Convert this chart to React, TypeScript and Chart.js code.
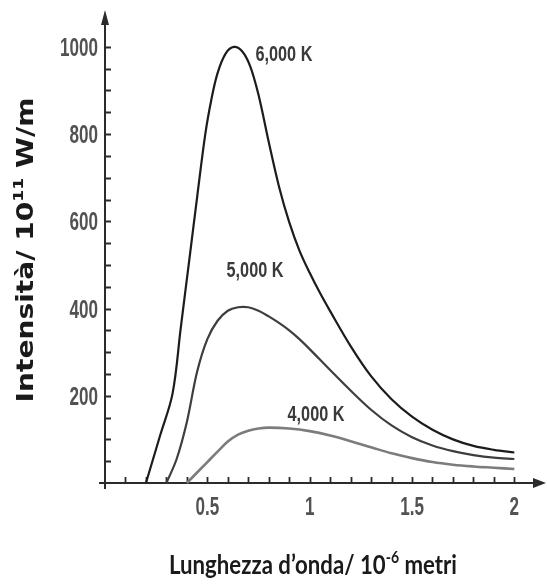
import React, { useEffect, useRef } from "react";
import { Chart, registerables } from "chart.js";

Chart.register(...registerables);

// ---- Data (wavelength in 10^-6 m, intensity in 10^11 W/m) ----
const lambda6000 = [0.2, 0.27, 0.33, 0.37, 0.41, 0.45, 0.49, 0.52, 0.55, 0.59, 0.63, 0.67, 0.71, 0.75, 0.8, 0.85, 0.9, 0.95, 1.0, 1.05, 1.1, 1.2, 1.3, 1.4, 1.5, 1.6, 1.7, 1.8, 1.9, 2.0];
const intensity6000 = [0, 110, 205, 355, 505, 655, 800, 880, 940, 985, 1000, 990, 955, 890, 782, 680, 598, 533, 482, 436, 394, 314, 245, 192, 152, 122, 100, 85, 76, 70];

const lambda5000 = [0.3, 0.35, 0.4, 0.45, 0.5, 0.55, 0.6, 0.65, 0.7, 0.75, 0.8, 0.85, 0.9, 0.95, 1.0, 1.1, 1.2, 1.3, 1.4, 1.5, 1.6, 1.7, 1.8, 1.9, 2.0];
const intensity5000 = [0, 55, 140, 255, 330, 372, 395, 403, 403, 395, 382, 367, 350, 330, 307, 259, 212, 168, 132, 105, 86, 73, 64, 58, 55];

const lambda4000 = [0.4, 0.5, 0.55, 0.6, 0.65, 0.7, 0.75, 0.8, 0.9, 1.0, 1.1, 1.2, 1.3, 1.4, 1.5, 1.6, 1.7, 1.8, 1.9, 2.0];
const intensity4000 = [0, 48, 72, 95, 111, 120, 125, 127, 125, 119, 109, 96, 82, 68, 57, 48, 42, 38, 35, 32];

const seriesNames = ["6,000 K", "5,000 K", "4,000 K"];

const xTickValues = [0.5, 1, 1.5, 2];
const xTickLabels = ["0.5", "1", "1.5", "2"];
const yTickValues = [200, 400, 600, 800, 1000];
const yTickLabels = ["200", "400", "600", "800", "1000"];
const xMinorStep = 0.1;
const xMinorMax = 2.0;
const yMinorStep = 50;
const yMinorMax = 1000;

const yTitleParts: [string, string, string] = ["Intensità/ 10", "11", " W/m"];
const xTitleParts: [string, string, string] = ["Lunghezza d\u2019onda/ 10", "-6", " metri"];

const toPoints = (xs: number[], ys: number[]) => xs.map((x, i) => ({ x, y: ys[i] }));

function drawScaled(
  ctx: CanvasRenderingContext2D,
  text: string,
  x: number,
  y: number,
  font: string,
  sx: number,
  align: "left" | "center" | "right",
  color: string
) {
  ctx.save();
  ctx.font = font;
  ctx.fillStyle = color;
  ctx.textBaseline = "alphabetic";
  ctx.textAlign = "left";
  const w = ctx.measureText(text).width * sx;
  const left = align === "center" ? x - w / 2 : align === "right" ? x - w : x;
  ctx.translate(left, y);
  ctx.scale(sx, 1);
  ctx.fillText(text, 0, 0);
  ctx.restore();
}

function drawSupText(
  ctx: CanvasRenderingContext2D,
  parts: [string, string, string],
  cx: number,
  baseline: number,
  weight: string,
  family: string,
  size: number,
  targetLen: number,
  color: string
) {
  const mainFont = `${weight} ${size}px ${family}`;
  const supSize = Math.round(size * 0.62);
  const supFont = `${weight} ${supSize}px ${family}`;
  ctx.save();
  ctx.fillStyle = color;
  ctx.textBaseline = "alphabetic";
  ctx.textAlign = "left";
  ctx.font = mainFont;
  const w1 = ctx.measureText(parts[0]).width;
  const w3 = ctx.measureText(parts[2]).width;
  ctx.font = supFont;
  const w2 = ctx.measureText(parts[1]).width;
  const total = w1 + w2 + w3;
  const sx = targetLen / total;
  ctx.translate(cx - targetLen / 2, baseline);
  ctx.scale(sx, 1);
  ctx.font = mainFont;
  ctx.fillText(parts[0], 0, 0);
  ctx.font = supFont;
  ctx.fillText(parts[1], w1, -size * 0.42);
  ctx.font = mainFont;
  ctx.fillText(parts[2], w1 + w2, 0);
  ctx.restore();
}

const axesPlugin = {
  id: "physAxes",
  beforeDatasetsDraw(chart: any) {
    const ctx: CanvasRenderingContext2D = chart.ctx;
    const xs = chart.scales.x;
    const ys = chart.scales.y;
    const x0 = xs.getPixelForValue(0);
    const y0 = ys.getPixelForValue(0);
    const { right, top } = chart.chartArea;
    ctx.save();
    ctx.strokeStyle = "#2b2b2b";
    ctx.fillStyle = "#2b2b2b";
    ctx.lineWidth = 2;
    ctx.beginPath();
    ctx.moveTo(x0, y0 + 6);
    ctx.lineTo(x0, top + 6);
    ctx.moveTo(x0 - 6, y0);
    ctx.lineTo(right - 6, y0);
    ctx.stroke();
    ctx.beginPath();
    ctx.moveTo(x0, top - 2);
    ctx.lineTo(x0 - 4, top + 13);
    ctx.lineTo(x0 + 4, top + 13);
    ctx.closePath();
    ctx.fill();
    ctx.beginPath();
    ctx.moveTo(right + 3, y0);
    ctx.lineTo(right - 10, y0 - 5);
    ctx.lineTo(right - 10, y0 + 5);
    ctx.closePath();
    ctx.fill();
    ctx.lineWidth = 1.8;
    ctx.beginPath();
    for (let v = yMinorStep; v <= yMinorMax + 1e-6; v += yMinorStep) {
      const py = Math.round(ys.getPixelForValue(v)) + 0.5;
      ctx.moveTo(x0, py);
      ctx.lineTo(x0 + 6, py);
    }
    for (let k = 1; k * xMinorStep <= xMinorMax + 1e-6; k++) {
      const px = Math.round(xs.getPixelForValue(k * xMinorStep)) + 0.5;
      ctx.moveTo(px, y0);
      ctx.lineTo(px, y0 - 6);
    }
    ctx.stroke();
    ctx.restore();
  },
  afterDraw(chart: any) {
    const ctx: CanvasRenderingContext2D = chart.ctx;
    const xs = chart.scales.x;
    const ys = chart.scales.y;
    const x0 = xs.getPixelForValue(0);
    const y0 = ys.getPixelForValue(0);
    const tickFont = "bold 26px 'Liberation Sans Narrow', 'Liberation Sans', Arial, sans-serif";
    ctx.save();
    ctx.font = tickFont;
    const tsx = 38 / ctx.measureText("1000").width;
    ctx.restore();
    yTickValues.forEach((v, i) => {
      const py = ys.getPixelForValue(v);
      drawScaled(ctx, yTickLabels[i], x0 - 7, py + 9, tickFont, tsx, "right", "#525252");
    });
    xTickValues.forEach((v, i) => {
      const px = xs.getPixelForValue(v);
      drawScaled(ctx, xTickLabels[i], px, y0 + 32, tickFont, tsx, "center", "#525252");
    });
    const opts = chart.options.plugins.physAxes || {};
    const lab = opts.labels || [];
    const labFont = "bold 22px 'Liberation Sans Narrow', 'Liberation Sans', Arial, sans-serif";
    ctx.save();
    ctx.font = labFont;
    const lsx = 57 / ctx.measureText("6,000 K").width;
    ctx.restore();
    lab.forEach((l: any) => {
      drawScaled(ctx, l.text, xs.getPixelForValue(l.x), ys.getPixelForValue(l.y), labFont, lsx, "center", "#3a3a3a");
    });
    drawSupText(ctx, xTitleParts, 313, 574, "bold", "Lato, 'Open Sans', sans-serif", 27, 288, "#1a1a1a");
    ctx.save();
    ctx.translate(33, 250);
    ctx.rotate(-Math.PI / 2);
    drawSupText(ctx, yTitleParts, 0, 0, "bold", "'DejaVu Sans', Verdana, sans-serif", 23, 305, "#1a1a1a");
    ctx.restore();
  },
};

export default function App() {
  const canvasRef = useRef<HTMLCanvasElement | null>(null);

  useEffect(() => {
    if (!canvasRef.current) return;
    const chart = new Chart(canvasRef.current, {
      type: "line",
      data: {
        datasets: [
          {
            label: seriesNames[0],
            data: toPoints(lambda6000, intensity6000),
            borderColor: "#1c1c1c",
            borderWidth: 2.2,
          },
          {
            label: seriesNames[1],
            data: toPoints(lambda5000, intensity5000),
            borderColor: "#3e3e3e",
            borderWidth: 2.2,
          },
          {
            label: seriesNames[2],
            data: toPoints(lambda4000, intensity4000),
            borderColor: "#7c7c7c",
            borderWidth: 2.6,
          },
        ],
      },
      options: {
        responsive: false,
        animation: false,
        events: [],
        layout: { padding: { left: 105, right: 4, top: 12, bottom: 103 } },
        elements: {
          point: { radius: 0 },
          line: { tension: 0.35, fill: false },
        },
        datasets: { line: { clip: 6 } } as any,
        scales: {
          x: { type: "linear", min: 0, max: 2.14, display: false },
          y: { type: "linear", min: 0, max: 1080, display: false },
        },
        plugins: {
          legend: { display: false },
          tooltip: { enabled: false },
          physAxes: {
            labels: [
              { text: seriesNames[0], x: 0.874, y: 968 },
              { text: seriesNames[1], x: 0.733, y: 472 },
              { text: seriesNames[2], x: 1.031, y: 142 },
            ],
          },
        } as any,
      },
      plugins: [axesPlugin],
    });
    return () => chart.destroy();
  }, []);

  return (
    <div style={{ position: "fixed", left: 0, top: 0, width: 547, height: 586, background: "#fff" }}>
      <canvas ref={canvasRef} width={547} height={586} style={{ display: "block" }} />
    </div>
  );
}
